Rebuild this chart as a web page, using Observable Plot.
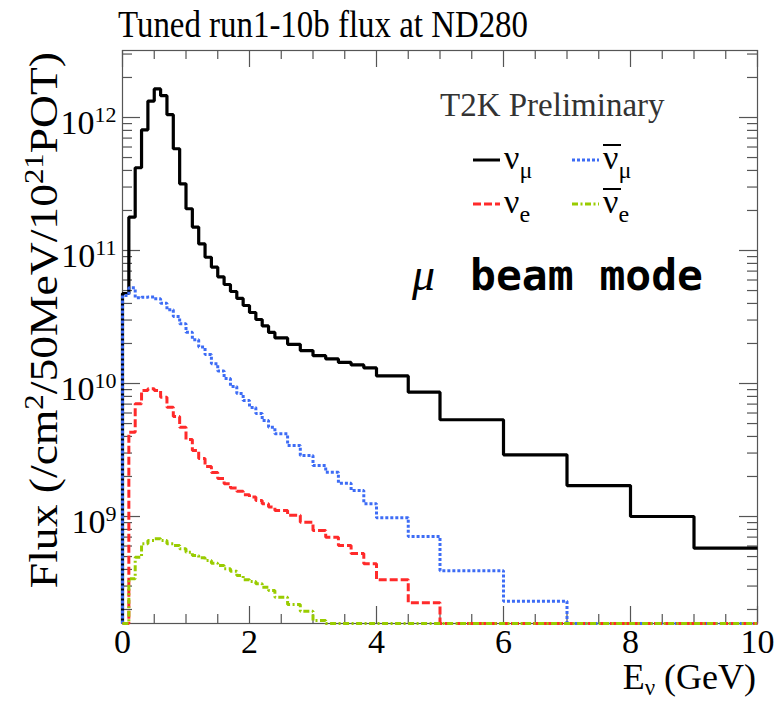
<!DOCTYPE html>
<html><head><meta charset="utf-8">
<script src="https://cdn.jsdelivr.net/npm/d3@7"></script>
<script src="https://cdn.jsdelivr.net/npm/@observablehq/plot@0.6"></script>
<style>body{margin:0;background:#fff}#chart{width:775px;height:702px}</style>
</head><body><div id="chart"></div>
<script>
// Bin edges (GeV)
const binEdges = [0,0.1,0.2,0.3,0.4,0.5,0.6,0.7,0.8,0.9,1.0,1.1,1.2,1.3,1.4,1.5,1.6,1.7,1.8,1.9,2.0,2.1,2.2,2.3,2.4,
  2.6,2.8,3.0,3.2,3.4,3.6,3.8,4.0,4.5,5,6,7,8,9,10];
// Flux per bin (/cm2/50MeV/1e21 POT)
const numu = [4.75e10,1.78e11,4.19e11,8.08e11,1.33e12,1.64e12,1.46e12,1.05e12,5.82e11,3.17e11,
  2.06e11,1.50e11,1.12e11,8.90e10,7.49e10,6.34e10,5.55e10,4.92e10,4.36e10,3.86e10,
  3.42e10,3.03e10,2.71e10,2.42e10,
  2.20e10,1.97e10,1.77e10,1.62e10,1.53e10,1.44e10,1.38e10,1.31e10,
  1.14e10,8.60e9,5.34e9,2.91e9,1.71e9,1.00e9,5.78e8];
const numubar = [4.59e10,5.24e10,4.41e10,4.46e10,4.47e10,4.33e10,4.02e10,3.58e10,3.19e10,2.81e10,
  2.43e10,2.13e10,1.88e10,1.65e10,1.41e10,1.24e10,1.09e10,9.49e9,8.41e9,7.45e9,
  6.60e9,5.95e9,5.27e9,4.69e9,
  4.19e9,3.42e9,2.87e9,2.42e9,2.15e9,1.78e9,1.57e9,1.25e9,
  9.78e8,7.07e8,3.91e8,2.31e8,0,0,0];
const nue = [0,4.30e9,7.04e9,8.86e9,9.13e9,8.86e9,7.89e9,6.63e9,5.65e9,4.69e9,
  3.79e9,3.13e9,2.73e9,2.38e9,2.14e9,1.93e9,1.76e9,1.64e9,1.55e9,1.46e9,
  1.40e9,1.32e9,1.25e9,1.18e9,
  1.11e9,1.02e9,9.06e8,7.85e8,6.99e8,6.05e8,5.27e8,4.41e8,
  3.34e8,2.25e8,0,0,0,0,0];
const nuebar = [0,3.40e8,4.94e8,6.23e8,6.60e8,6.80e8,6.60e8,6.23e8,6.05e8,5.72e8,
  5.39e8,5.09e8,4.89e8,4.67e8,4.46e8,4.28e8,4.04e8,3.88e8,3.60e8,3.34e8,
  3.25e8,3.12e8,2.94e8,2.78e8,
  2.47e8,2.18e8,1.94e8,1.65e8,0,0,0,0,
  0,0,0,0,0,0,0];

const xTicks = [0,2,4,6,8,10];
const xTickLabels = ["0","2","4","6","8","10"];
const yTickValues = [1e9,1e10,1e11,1e12];
const yTickLabels = ["10^9","10^10","10^11","10^12"];
const yMin = 1.569e8, yMax = 3.19e12;

const series = [
  {name:"numu", values:numu, color:"#000000", dash:null, width:3.2},
  {name:"numubar", values:numubar, color:"#3d6cf5", dash:"3,2", width:3},
  {name:"nue", values:nue, color:"#ff2a2a", dash:"8,3", width:3},
  {name:"nuebar", values:nuebar, color:"#99cc00", dash:"6,2.5,2,2.5", width:3}
];

function stepPoints(values){
  const pts = [{x: binEdges[0], y: yMin}];
  values.forEach((v,i)=>pts.push({x: binEdges[i], y: Math.max(v, yMin)}));
  pts.push({x: binEdges[binEdges.length-1], y: Math.max(values[values.length-1], yMin)});
  return pts;
}

// minor ticks
const xMinor = [];
for (let k = 1; k < 20; k++) if (k % 4 !== 0) xMinor.push(k*0.5);
const yMinor = [];
for (let e = 8; e <= 12; e++) for (let m = 2; m <= 9; m++) { const v = m*Math.pow(10,e); if (v > yMin && v < yMax) yMinor.push(v); }

const W = 775, H = 702, mL = 122, mR = 18, mT = 50, mB = 79;
const fw = W-mL-mR, fh = H-mT-mB;
const tickColor = "#555";

const marks = [
  Plot.frame({stroke: tickColor, strokeWidth: 1.2}),
  Plot.tickX(xTicks, {x: d=>d, insetTop: fh-17, stroke: tickColor, strokeWidth: 1.2}),
  Plot.tickX(xTicks, {x: d=>d, insetBottom: fh-17, stroke: tickColor, strokeWidth: 1.2}),
  Plot.tickX(xMinor, {x: d=>d, insetTop: fh-9, stroke: tickColor, strokeWidth: 1.2}),
  Plot.tickX(xMinor, {x: d=>d, insetBottom: fh-9, stroke: tickColor, strokeWidth: 1.2}),
  Plot.tickY(yTickValues, {y: d=>d, insetRight: fw-18, stroke: tickColor, strokeWidth: 1.2}),
  Plot.tickY(yTickValues, {y: d=>d, insetLeft: fw-18, stroke: tickColor, strokeWidth: 1.2}),
  Plot.tickY(yMinor, {y: d=>d, insetRight: fw-10, stroke: tickColor, strokeWidth: 1.2}),
  Plot.tickY(yMinor, {y: d=>d, insetLeft: fw-10, stroke: tickColor, strokeWidth: 1.2}),
];
for (const s of series) {
  marks.push(Plot.line(stepPoints(s.values), {x:"x", y:"y", curve:"step-after", stroke:s.color,
    strokeWidth:s.width, strokeDasharray: s.dash || undefined, strokeLinejoin:"miter", strokeLinecap:"butt"}));
}
marks.push(Plot.text(xTicks, {x: d=>d, text: (d,i)=>xTickLabels[i], frameAnchor:"bottom", lineAnchor:"top", dy: 5, fontSize: 34}));
marks.push(Plot.text(yTickValues, {y: d=>d, text: (d,i)=>yTickLabels[i], frameAnchor:"left", textAnchor:"end", dx: -6, dy: 6, fontSize: 34}));

const svg = Plot.plot({
  width: W, height: H, marginLeft: mL, marginRight: mR, marginTop: mT, marginBottom: mB,
  x: {domain: [0,10], axis: null},
  y: {type: "log", domain: [yMin, yMax], axis: null},
  style: {fontFamily: "'Liberation Serif', serif", fontSize: "34px", background: "white", color: "black"},
  marks
});

const s = d3.select(svg);
// superscripts for y tick labels
s.selectAll("text").each(function(){
  const m = this.textContent.match(/^10\^(\d+)$/);
  if (m) {
    this.textContent = "10";
    d3.select(this).append("tspan").attr("dy","-0.55em").attr("font-size","22px").text(m[1]);
  }
});

const serif = "'Liberation Serif', serif";
// Title
s.append("text").attr("x",118).attr("y",37).attr("text-anchor","start").attr("font-family",serif).attr("font-size",38)
  .attr("textLength",410).attr("lengthAdjust","spacingAndGlyphs").attr("fill","#000")
  .text("Tuned run1-10b flux at ND280");
// Y title
const yt = s.append("text").attr("transform","translate(57,52) rotate(-90) scale(1.14,1)").attr("text-anchor","end")
  .attr("font-family",serif).attr("font-size",40).attr("fill","#000");
yt.append("tspan").text("Flux (/cm");
yt.append("tspan").attr("dy",-14).attr("font-size",27).text("2");
yt.append("tspan").attr("dy",14).text("/50MeV/10");
yt.append("tspan").attr("dy",-14).attr("font-size",27).text("21");
yt.append("tspan").attr("dy",14).text("POT)");
// X title
const xt = s.append("text").attr("x",756).attr("y",689).attr("text-anchor","end")
  .attr("font-family",serif).attr("font-size",36).attr("fill","#000");
xt.append("tspan").text("E");
xt.append("tspan").attr("dy",6).attr("font-size",23).text("ν");
xt.append("tspan").attr("dy",-6).text(" (GeV)");

// Legend
s.append("text").attr("x",440).attr("y",116).attr("text-anchor","start").attr("font-family",serif).attr("font-size",33)
  .attr("fill","#333").text("T2K Preliminary");
const leg = [
  {x:473, y:160, sub:"μ", bar:false, s:series[0]},
  {x:572, y:160, sub:"μ", bar:true, s:series[1]},
  {x:473, y:204, sub:"e", bar:false, s:series[2]},
  {x:572, y:204, sub:"e", bar:true, s:series[3]},
];
for (const l of leg) {
  s.append("line").attr("x1",l.x).attr("x2",l.x+27).attr("y1",l.y).attr("y2",l.y)
    .attr("stroke",l.s.color).attr("stroke-width",3).attr("stroke-dasharray",l.s.dash);
  const t = s.append("text").attr("x",l.x+31).attr("y",l.y+9).attr("text-anchor","start").attr("font-family",serif)
    .attr("font-size",34).attr("fill","#000");
  t.append("tspan").text("ν");
  t.append("tspan").attr("dy",9).attr("font-size",24).text(l.sub);
  if (l.bar) s.append("line").attr("x1",l.x+31).attr("x2",l.x+49).attr("y1",l.y-15).attr("y2",l.y-15)
    .attr("stroke","#000").attr("stroke-width",2);
}
// Beam mode annotation
const bm = s.append("text").attr("x",412).attr("y",290).attr("text-anchor","start").attr("fill","#000");
bm.append("tspan").attr("font-family",serif).attr("font-style","italic").attr("font-size",46).text("μ");
bm.append("tspan").attr("x",470).attr("font-family","'DejaVu Sans Mono', monospace").attr("font-weight","bold")
  .attr("font-size",43).text("beam mode");

document.getElementById("chart").appendChild(svg);
</script>
</body></html>
